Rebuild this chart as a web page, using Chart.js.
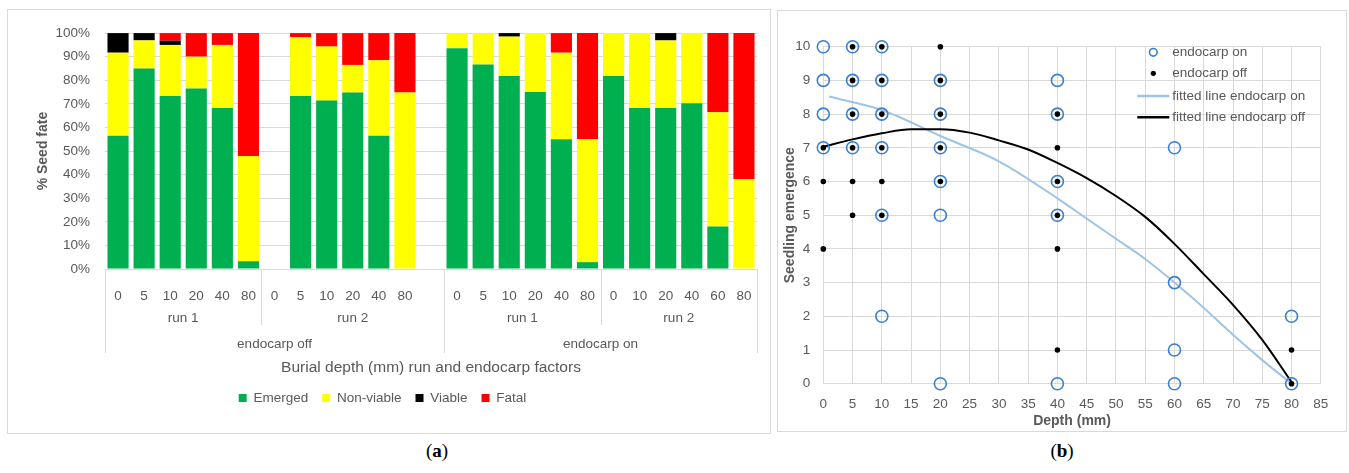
<!DOCTYPE html>
<html>
<head>
<meta charset="utf-8">
<script src="https://cdn.jsdelivr.net/npm/chart.js@4"></script>
<style>
  body { margin: 0; background: #fff; width: 1349px; height: 473px; position: relative; overflow: hidden; }
  .panel { position: absolute; border: 1px solid #d9d9d9; }
  .panel canvas { display: block; }
  .caption { position: absolute; top: 440px; width: 60px; text-align: center; font: 19px 'Liberation Serif', 'DejaVu Serif', serif; color: #000; }
  .caption b { font-weight: bold; }
</style>
</head>
<body>
<div class="panel" style="left:7px; top:9px;"><canvas id="fateChart" width="762" height="423"></canvas></div>
<div class="panel" style="left:777px; top:10px;"><canvas id="emergenceChart" width="568" height="420"></canvas></div>
<div class="caption" style="left:407px;">(<b>a</b>)</div>
<div class="caption" style="left:1032px;">(<b>b</b>)</div>

<script>
// seed fate (%) per burial depth, grouped by run and endocarp treatment
const depthLabels = ['0', '5', '10', '20', '40', '80',
                     '0', '5', '10', '20', '40', '80', '',
                     '0', '5', '10', '20', '40', '80',
                     '0', '10', '20', '40', '60', '80'];
const runNames = ['run 1', 'run 2', 'run 1', 'run 2'];
const runSizes = [6, 7, 6, 6];
const endocarpNames = ['endocarp off', 'endocarp on'];
const endocarpSizes = [13, 12];

const emerged   = [56.5, 85, 73.3, 76.5, 68.2, 3.3,  null, 73.3, 71.4, 74.8, 56.5, 0, null,  93.6, 86.7, 81.8, 75, 55, 2.9,  81.8, 68.2, 68.2, 70.3, 18, 0];
const nonViable = [35.2, 11.9, 21.7, 13.5, 26.8, 44.6,  null, 24.9, 22.9, 11.7, 32, 74.8, null,  6.4, 13.3, 16.7, 25, 36.7, 52.1,  18.2, 31.8, 28.7, 29.7, 48.5, 38];
const viable    = [8.3, 3.1, 1.8, 0, 0, 0,  null, 0, 0, 0, 0, 0, null,  0, 0, 1.5, 0, 0, 0,  0, 0, 3.1, 0, 0, 0];
const fatal     = [0, 0, 3.2, 10, 5, 52.1,  null, 1.8, 5.7, 13.5, 11.5, 25.2, null,  0, 0, 0, 0, 8.3, 45,  0, 0, 0, 0, 33.5, 62];
const percentTicks = [0, 10, 20, 30, 40, 50, 60, 70, 80, 90, 100];

// seedling emergence counts per depth (mm)
const onDepth  = [0, 0, 0, 0, 5, 5, 5, 5, 10, 10, 10, 10, 10, 10, 20, 20, 20, 20, 20, 20, 40, 40, 40, 40, 40, 60, 60, 60, 60, 80, 80];
const onCount  = [10, 9, 8, 7, 10, 9, 8, 7, 10, 9, 8, 7, 5, 2, 9, 8, 7, 6, 5, 0, 9, 8, 6, 5, 0, 7, 3, 1, 0, 2, 0];
const offDepth = [0, 0, 0, 5, 5, 5, 5, 5, 5, 10, 10, 10, 10, 10, 10, 20, 20, 20, 20, 20, 40, 40, 40, 40, 40, 40, 80, 80];
const offCount = [7, 6, 4, 10, 9, 8, 7, 6, 5, 10, 9, 8, 7, 6, 5, 10, 9, 8, 7, 6, 8, 7, 6, 5, 4, 1, 1, 0];

// fitted curves
const fitOnDepth  = [1, 10, 20, 30, 40, 45, 50, 55, 60, 65, 70, 75, 80];
const fitOnValue  = [8.52, 8.12, 7.35, 6.6, 5.5, 4.9, 4.3, 3.7, 3.0, 2.25, 1.45, 0.7, 0];
const fitOffDepth = [0, 5, 10, 15, 20, 25, 30, 35, 40, 45, 50, 55, 60, 65, 70, 75, 80];
const fitOffValue = [7.03, 7.25, 7.43, 7.55, 7.55, 7.45, 7.22, 6.95, 6.55, 6.1, 5.57, 4.95, 4.15, 3.25, 2.34, 1.3, 0.05];

const GREY = '#595959';
const GRID = '#d9d9d9';
const FONT = "'Liberation Sans', Arial, sans-serif";

Chart.defaults.font.family = FONT;
Chart.defaults.color = GREY;
Chart.defaults.animation = false;

const toPoints = (xs, ys) => xs.map((x, i) => ({ x: x, y: ys[i] }));

// run / endocarp rows under the depth labels, with the separator lines
const groupLabels = {
    id: 'groupLabels',
    afterDraw(chart) {
        const { ctx, chartArea, scales: { x } } = chart;
        const n = depthLabels.length;
        const edge = i => i === 0 ? x.left : i === n ? x.right
            : (x.getPixelForTick(i - 1) + x.getPixelForTick(i)) / 2;
        const bottom = chartArea.bottom;

        ctx.save();
        ctx.strokeStyle = GRID;
        ctx.lineWidth = 1;
        ctx.fillStyle = GREY;
        ctx.font = '13.5px ' + FONT;
        ctx.textAlign = 'center';
        ctx.textBaseline = 'middle';

        const vline = (px, len) => {
            const xx = Math.round(px) + 0.5;
            ctx.beginPath();
            ctx.moveTo(xx, bottom);
            ctx.lineTo(xx, bottom + len);
            ctx.stroke();
        };

        let start = 0;
        runNames.forEach((name, k) => {
            const x0 = edge(start), x1 = edge(start + runSizes[k]);
            vline(x0, 56);
            ctx.fillText(name, (x0 + x1) / 2, bottom + 49);
            start += runSizes[k];
        });

        start = 0;
        endocarpNames.forEach((name, k) => {
            const x0 = edge(start), x1 = edge(start + endocarpSizes[k]);
            vline(x0, 84);
            ctx.fillText(name, (x0 + x1) / 2, bottom + 75);
            start += endocarpSizes[k];
        });
        vline(edge(n), 84);
        ctx.restore();
    }
};

new Chart(document.getElementById('fateChart'), {
    type: 'bar',
    data: {
        labels: depthLabels,
        datasets: [
            { label: 'Emerged', data: emerged, backgroundColor: '#00b050' },
            { label: 'Non-viable', data: nonViable, backgroundColor: '#ffff00' },
            { label: 'Viable', data: viable, backgroundColor: '#000000' },
            { label: 'Fatal', data: fatal, backgroundColor: '#ff0000' }
        ]
    },
    options: {
        responsive: false,
        barPercentage: 0.81,
        categoryPercentage: 1.0,
        layout: { padding: { top: 18, right: 13, bottom: 18.25, left: 0 } },
        plugins: {
            legend: {
                position: 'bottom',
                labels: { boxWidth: 8, boxHeight: 8, padding: 14, font: { size: 13.5 } }
            },
            tooltip: { enabled: false }
        },
        scales: {
            x: {
                stacked: true,
                grid: { display: false },
                border: { display: false },
                ticks: { autoSkip: false, maxRotation: 0, padding: 11, font: { size: 13.5 } },
                title: {
                    display: true,
                    text: 'Burial depth (mm) run and endocarp factors',
                    font: { size: 15.5 },
                    padding: { top: 0, bottom: 0 }
                },
                afterFit: scale => { scale.height = 108.25; }
            },
            y: {
                stacked: true,
                min: 0,
                max: 100,
                afterBuildTicks: scale => { scale.ticks = percentTicks.map(v => ({ value: v })); },
                grid: { color: GRID, drawTicks: false },
                border: { display: false },
                ticks: { padding: 15, font: { size: 13.5 }, callback: v => v + '%' },
                title: {
                    display: true,
                    text: '% Seed fate',
                    font: { size: 14, weight: 'bold' },
                    padding: { top: 26.5, bottom: 0 }
                },
                afterFit: scale => { scale.width = 97; }
            }
        }
    },
    plugins: [groupLabels]
});

// legend placed inside the plot area, top right
const insideLegend = {
    id: 'insideLegend',
    afterDraw(chart) {
        const { ctx, chartArea } = chart;
        const markX = chartArea.left + 330;
        const textX = chartArea.left + 349;
        const rowY = [chartArea.top + 5.6, chartArea.top + 26.6, chartArea.top + 49.3, chartArea.top + 70.6];

        ctx.save();
        ctx.font = '13.5px ' + FONT;
        ctx.textBaseline = 'middle';
        ctx.textAlign = 'left';
        chart.data.datasets.forEach((ds, i) => {
            const y = rowY[i];
            if (ds.showLine) {
                ctx.strokeStyle = ds.borderColor;
                ctx.lineWidth = ds.borderWidth + 0.5;
                ctx.beginPath();
                ctx.moveTo(markX - 16, y);
                ctx.lineTo(markX + 16, y);
                ctx.stroke();
            } else {
                ctx.beginPath();
                ctx.arc(markX, y, ds.pointRadius > 4 ? 3.8 : 2.6, 0, Math.PI * 2);
                if (ds.pointBackgroundColor !== 'transparent') {
                    ctx.fillStyle = ds.pointBackgroundColor;
                    ctx.fill();
                } else {
                    ctx.strokeStyle = ds.pointBorderColor;
                    ctx.lineWidth = 1.6;
                    ctx.stroke();
                }
            }
            ctx.fillStyle = GREY;
            ctx.fillText(ds.label, textX, y);
        });
        ctx.restore();
    }
};

new Chart(document.getElementById('emergenceChart'), {
    type: 'scatter',
    data: {
        datasets: [
            {
                label: 'endocarp on',
                data: toPoints(onDepth, onCount),
                pointRadius: 6,
                pointBorderWidth: 1.6,
                pointBorderColor: '#3a7fd0',
                pointBackgroundColor: 'transparent',
                clip: false,
                order: 1
            },
            {
                label: 'endocarp off',
                data: toPoints(offDepth, offCount),
                pointRadius: 2.8,
                pointBorderWidth: 0,
                pointBorderColor: '#000',
                pointBackgroundColor: '#000',
                clip: false,
                order: 0
            },
            {
                label: 'fitted line endocarp on',
                data: toPoints(fitOnDepth, fitOnValue),
                showLine: true,
                borderColor: '#9dc3e6',
                borderWidth: 2,
                pointRadius: 0,
                cubicInterpolationMode: 'monotone',
                order: 3
            },
            {
                label: 'fitted line endocarp off',
                data: toPoints(fitOffDepth, fitOffValue),
                showLine: true,
                borderColor: '#000',
                borderWidth: 2,
                pointRadius: 0,
                cubicInterpolationMode: 'monotone',
                order: 2
            }
        ]
    },
    options: {
        responsive: false,
        layout: { padding: { top: 35.7, right: 25.2, bottom: 0, left: 0 } },
        plugins: {
            legend: { display: false },
            tooltip: { enabled: false }
        },
        scales: {
            x: {
                type: 'linear',
                min: 0,
                max: 85,
                grid: { color: GRID, drawTicks: false },
                border: { display: false },
                ticks: { stepSize: 5, padding: 12.8, font: { size: 13.5 } },
                title: {
                    display: true,
                    text: 'Depth (mm)',
                    font: { size: 14, weight: 'bold' },
                    padding: { top: 0, bottom: 1.6 }
                },
                afterFit: scale => { scale.height = 47.3; }
            },
            y: {
                min: 0,
                max: 10,
                grid: { color: GRID, drawTicks: false },
                border: { display: false },
                ticks: { stepSize: 1, padding: 13, font: { size: 13.5 } },
                title: {
                    display: true,
                    text: 'Seedling emergence',
                    font: { size: 14, weight: 'bold' },
                    padding: { top: 3.6, bottom: 0 }
                },
                afterFit: scale => { scale.width = 45.3; }
            }
        }
    },
    plugins: [insideLegend]
});
</script>
</body>
</html>
